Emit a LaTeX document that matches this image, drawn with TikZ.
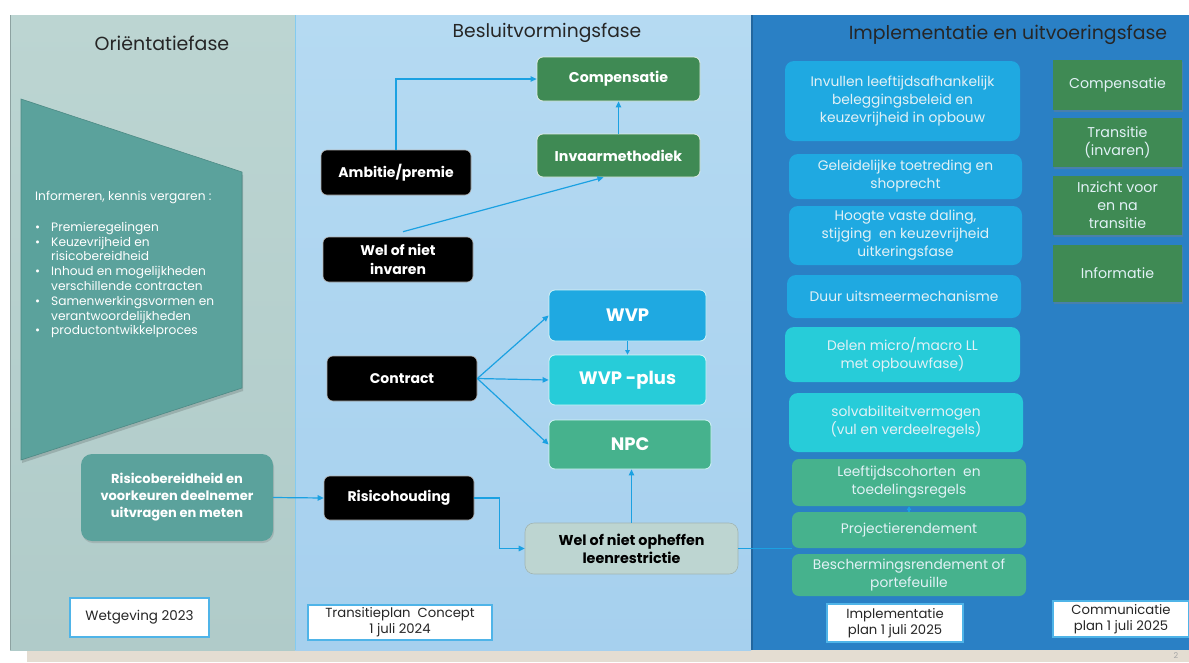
\documentclass[tikz,border=0pt]{standalone}
\usepackage{fontspec}
\setmainfont{Poppins}
\usetikzlibrary{arrows.meta,shadows,calc}
\definecolor{pone}{HTML}{BCD5D2}
\definecolor{ponebot}{HTML}{B0CBC9}
\definecolor{ptwo}{HTML}{B5DAF2}
\definecolor{ptwobot}{HTML}{A6D0EE}
\definecolor{pthree}{HTML}{2A80C5}
\definecolor{beige}{HTML}{E4DDD2}
\definecolor{tealbox}{HTML}{5BA29C}
\definecolor{skybox}{HTML}{1FA9E1}
\definecolor{cyanbox}{HTML}{27CCD9}
\definecolor{seabox}{HTML}{46B28D}
\definecolor{dgreen}{HTML}{3F8A54}
\definecolor{greybox}{HTML}{BDD5D1}
\definecolor{arrowc}{HTML}{1BA1E2}
\definecolor{wbord}{HTML}{4FB4E8}
\definecolor{titlec}{HTML}{262626}
\definecolor{lighttxt}{HTML}{E2F1F6}
\tikzset{
  boxbase/.style={align=center, inner sep=1pt},
  blackbox/.style={boxbase, fill=black, draw=gray!60, line width=0.6pt, rounded corners=6pt, text=white,
    font=\fontsize{14}{19}\selectfont\bfseries},
  greenbox/.style={boxbase, fill=dgreen, draw=white!85!dgreen, line width=0.8pt, rounded corners=6pt, text=white,
    font=\fontsize{14.2}{18}\selectfont\bfseries},
  bigbox/.style={boxbase, draw=white!80!cyanbox, line width=0.8pt, rounded corners=6pt, text=white,
    font=\fontsize{18}{22}\selectfont\bfseries},
  rightgreen/.style={boxbase, fill=dgreen, text=lighttxt, font=\fontsize{14.2}{18}\selectfont,
    drop shadow={shadow xshift=1pt, shadow yshift=-2pt, opacity=0.35}},
  implbox/.style={boxbase, rounded corners=9pt, text=lighttxt, font=\fontsize{13.8}{18}\selectfont},
  datebox/.style={boxbase, fill=white, draw=wbord, line width=1.2pt, text=titlec, font=\fontsize{13.5}{16.5}\selectfont},
  conn/.style={draw=arrowc, line width=1.2pt},
  arr/.style={conn, -{Triangle[length=6pt,width=5.5pt]}},
  phasetitle/.style={text=titlec, font=\fontsize{18.9}{22}\selectfont},
}
\begin{document}
\begin{tikzpicture}[x=1pt,y=-1pt]
\useasboundingbox (0,0) rectangle (1189,662);
\fill[white] (0,0) rectangle (1189,662);
% background panels
\fill[beige] (27,650) rectangle (1189,662);
\shade[top color=pone, bottom color=ponebot] (10,15) rectangle (295,650);
\shade[top color=ptwo, bottom color=ptwobot] (295,15) rectangle (751,650);
\fill[pthree] (751,15) rectangle (1189,650);
\draw[line width=1.5pt, color=wbord!70] (295.5,15) -- (295.5,650);
\draw[line width=2pt, color=pthree!80!black] (752,15) -- (752,650);
\draw[line width=0.6pt, color=ponebot!80!black] (10,15) -- (10,650);
\node[text=gray!70, font=\fontsize{8}{9}\selectfont] (pagenum) at (1176,656) {2};

% titles
\node[phasetitle, font=\fontsize{19}{22}\selectfont] (t1) at (162,43) {Oriëntatiefase};
\node[phasetitle, font=\fontsize{18.7}{22}\selectfont] (t2) at (547,33) {Besluitvormingsfase};
\node[phasetitle] (t3) at (1008,35) {Implementatie en uitvoeringsfase};

% Orientatie panel
\fill[black, opacity=0.15] (22,102) -- (243,175) -- (243,391) -- (22,463) -- cycle;
\filldraw[fill=tealbox, draw=tealbox!85!black, line width=0.6pt] (21,99) -- (242,172) -- (242,388) -- (21,460) -- cycle;
\node[anchor=north west, inner sep=0pt, text=white, align=left, font=\fontsize{12.2}{14.8}\selectfont] (info) at (35,191)
{Informeren, kennis vergaren :\\[16pt]
\makebox[16pt][l]{\textbullet}Premieregelingen\\
\makebox[16pt][l]{\textbullet}Keuzevrijheid en\\
\hspace*{16pt}risicobereidheid\\
\makebox[16pt][l]{\textbullet}Inhoud en mogelijkheden\\
\hspace*{16pt}verschillende contracten\\
\makebox[16pt][l]{\textbullet}Samenwerkingsvormen en\\
\hspace*{16pt}verantwoordelijkheden\\
\makebox[16pt][l]{\textbullet}productontwikkelproces};
\node[boxbase, fill=tealbox, rounded corners=11pt, text=white, font=\fontsize{13}{17}\selectfont\bfseries,
  minimum width=192pt, minimum height=87pt,
  drop shadow={shadow xshift=1pt, shadow yshift=-2pt, opacity=0.3}] (risico) at (177,497.5)
  {\rule{0pt}{3pt}Risicobereidheid en\\voorkeuren deelnemer\\uitvragen en meten};
\node[datebox, minimum width=139pt, minimum height=39pt] (wet) at (139.5,617.5) {Wetgeving 2023};

% Besluitvorming panel
\node[greenbox, minimum width=163pt, minimum height=44pt] (comp) at (618.5,79) {Compensatie};
\node[greenbox, minimum width=163pt, minimum height=43pt] (invaar) at (618.5,155.5) {Invaarmethodiek};
\node[blackbox, minimum width=150pt, minimum height=45pt] (amb) at (396,172.5) {Ambitie/premie};
\node[blackbox, minimum width=150pt, minimum height=45pt] (welinv) at (398,259.5) {Wel of niet\\invaren};
\node[bigbox, fill=skybox, minimum width=157pt, minimum height=51pt] (wvp) at (627.5,315.5) {WVP};
\node[bigbox, fill=cyanbox, minimum width=157pt, minimum height=50pt] (wvpplus) at (627.5,380) {WVP -plus};
\node[bigbox, fill=seabox, minimum width=162pt, minimum height=49pt] (npc) at (630,444.5) {NPC};
\node[blackbox, minimum width=150pt, minimum height=45pt] (contract) at (402,378.5) {Contract};
\node[blackbox, minimum width=150pt, minimum height=44pt] (rh) at (399,498) {Risicohouding};
\node[boxbase, fill=greybox, draw=greybox!85!black, line width=0.6pt, rounded corners=9pt, text=black,
  font=\fontsize{14.3}{18}\selectfont\bfseries, minimum width=213pt, minimum height=51pt] (oph) at (631.5,548.5)
  {Wel of niet opheffen\\leenrestrictie};
\node[datebox, minimum width=184pt, minimum height=35pt, font=\fontsize{13.2}{16}\selectfont] (tp) at (400,622.5) {Transitieplan\ \ Concept\\1 juli 2024};

% Implementatie panel, left column
\node[implbox, fill=skybox, minimum width=235pt, minimum height=80pt] (invul) at (902.5,101)
  {Invullen leeftijdsafhankelijk\\beleggingsbeleid en\\keuzevrijheid in opbouw};
\node[implbox, fill=skybox, minimum width=233pt, minimum height=45pt] (gel) at (905.5,176.5)
  {Geleidelijke toetreding en\\shoprecht};
\node[implbox, fill=skybox, minimum width=233pt, minimum height=59pt] (hoog) at (905.5,235.5)
  {Hoogte vaste daling,\\stijging\ \ en keuzevrijheid\\uitkeringsfase};
\node[implbox, fill=skybox, minimum width=234pt, minimum height=43pt] (duur) at (904,296.5)
  {Duur uitsmeermechanisme};
\node[implbox, fill=cyanbox, minimum width=235pt, minimum height=55pt] (delen) at (902.5,354.5)
  {Delen micro/macro LL\\met opbouwfase)};
\node[implbox, fill=cyanbox, minimum width=234pt, minimum height=59pt] (solv) at (906,422.5)
  {solvabiliteitvermogen\\(vul en verdeelregels)};
\node[implbox, fill=seabox, rounded corners=7pt, minimum width=234pt, minimum height=47pt] (leeft) at (909,482.5)
  {Leeftijdscohorten\ \ en\\toedelingsregels};
\node[implbox, fill=seabox, rounded corners=7pt, minimum width=234pt, minimum height=36pt] (proj) at (909,530)
  {Projectierendement};
\node[implbox, fill=seabox, rounded corners=7pt, minimum width=234pt, minimum height=42pt] (besch) at (909,575)
  {Beschermingsrendement of\\portefeuille};
\node[datebox, minimum width=136pt, minimum height=38pt, font=\fontsize{13.2}{16}\selectfont] (implplan) at (895,623) {Implementatie\\plan 1 juli 2025};
\node[datebox, minimum width=136pt, minimum height=36pt, font=\fontsize{13.2}{16}\selectfont] (commplan) at (1121,619) {Communicatie\\plan 1 juli 2025};

% Implementatie panel, right column
\node[rightgreen, minimum width=129pt, minimum height=50pt] (comp2) at (1117.5,85) {Compensatie};
\node[rightgreen, minimum width=129pt, minimum height=49pt] (trans) at (1117.5,142.5) {Transitie\\(invaren)};
\node[rightgreen, minimum width=129pt, minimum height=59pt] (inz) at (1117.5,205.5) {Inzicht voor\\en na\\transitie};
\node[rightgreen, minimum width=129pt, minimum height=57pt] (infor) at (1117.5,273.5) {Informatie};

% connectors
\draw[arr] (amb.north) -- (amb.north |- comp.west) -- (comp.west);
\draw[arr] (invaar.north) -- (comp.south);
\draw[arr] ($(welinv.north)+(5,-5)$) -- ($(invaar.south)+(-15,0)$);
\draw[arr] (contract.east) -- (wvp.west);
\draw[arr] (contract.east) -- (wvpplus.west);
\draw[arr] (contract.east) -- (npc.west);
\draw[arr, -{Triangle[length=4.5pt,width=4.5pt]}] (wvp.south) -- (wvpplus.north);
\draw[arr] (risico.east) -- (rh.west);
\draw[arr] (rh.east) -- ++(25,0) |- (oph.west);
\draw[arr] (oph.north) -- (oph.north |- npc.south);
\draw[conn] (oph.east) -- (oph.east -| proj.west);
\draw[arr, -{Triangle[length=4pt,width=4.5pt]}] (proj.north) -- (leeft.south);
\end{tikzpicture}
\end{document}
